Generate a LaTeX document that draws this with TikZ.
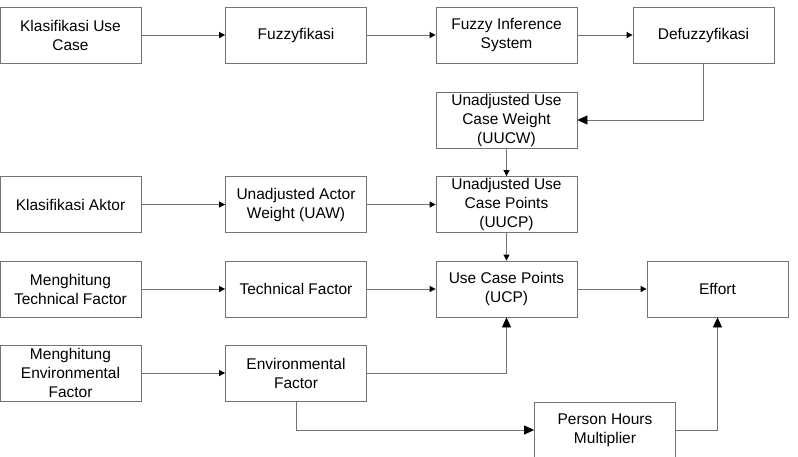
\documentclass[tikz,border=0pt]{standalone}
\usepackage{fontspec}
\setmainfont{Liberation Sans}
\usetikzlibrary{arrows.meta}

\begin{document}
\begin{tikzpicture}[x=1pt,y=-1pt,
  box/.style={draw=gray!90!black,line width=0.8pt,minimum width=141pt,minimum height=56pt,
    align=center,inner sep=1pt,font=\fontsize{15.5}{19}\selectfont},
  link/.style={draw=gray!90!black,line width=0.8pt,-{Triangle[length=6pt,width=6pt,color=black]}},
  biglink/.style={draw=gray!90!black,line width=0.8pt,-{Triangle[length=10pt,width=9pt,color=black]}}]
  \useasboundingbox (0,0) rectangle (798,456);

  % 1. Top row
  \node[box] (usecase) at (70.5,35) {Klasifikasi Use\\Case};
  \node[box] (fuzzy) at (296,35) {Fuzzyfikasi};
  \node[box] (fis) at (506.5,35) {Fuzzy Inference\\System};
  \node[box] (defuzzy) at (703.5,35) {Defuzzyfikasi};

  % 2. Weights and points
  \node[box] (uucw) at (506.5,120) {Unadjusted Use\\Case Weight\\(UUCW)};
  \node[box] (aktor) at (70.5,204.5) {Klasifikasi Aktor};
  \node[box] (uaw) at (296,204.5) {Unadjusted Actor\\Weight (UAW)};
  \node[box] (uucp) at (506.5,204.5) {Unadjusted Use\\Case Points\\(UUCP)};

  % 3. Factors
  \node[box] (hitungtf) at (70.5,289) {Menghitung\\Technical Factor};
  \node[box] (tf) at (296,289) {Technical Factor};
  \node[box] (ucp) at (506.5,289) {Use Case Points\\(UCP)};
  \node[box] (effort) at (717.5,289) {Effort};
  \node[box] (hitungef) at (70.5,373) {Menghitung\\Environmental\\Factor};
  \node[box] (ef) at (296,373) {Environmental\\Factor};
  \node[box] (phm) at (605,430) {Person Hours\\Multiplier};

  % 4. Connectors
  \draw[link] (usecase) -- (fuzzy);
  \draw[link] (fuzzy) -- (fis);
  \draw[link] (fis) -- (defuzzy);
  \draw[biglink] (defuzzy) |- (uucw);
  \draw[link] (uucw) -- (uucp);
  \draw[link] (aktor) -- (uaw);
  \draw[link] (uaw) -- (uucp);
  \draw[link] (uucp) -- (ucp);
  \draw[link] (hitungtf) -- (tf);
  \draw[link] (tf) -- (ucp);
  \draw[link] (ucp) -- (effort);
  \draw[link] (hitungef) -- (ef);
  \draw[biglink] (ef) -| (ucp);
  \draw[biglink] (ef.south) |- (phm.west);
  \draw[biglink] (phm) -| (effort);
\end{tikzpicture}
\end{document}
